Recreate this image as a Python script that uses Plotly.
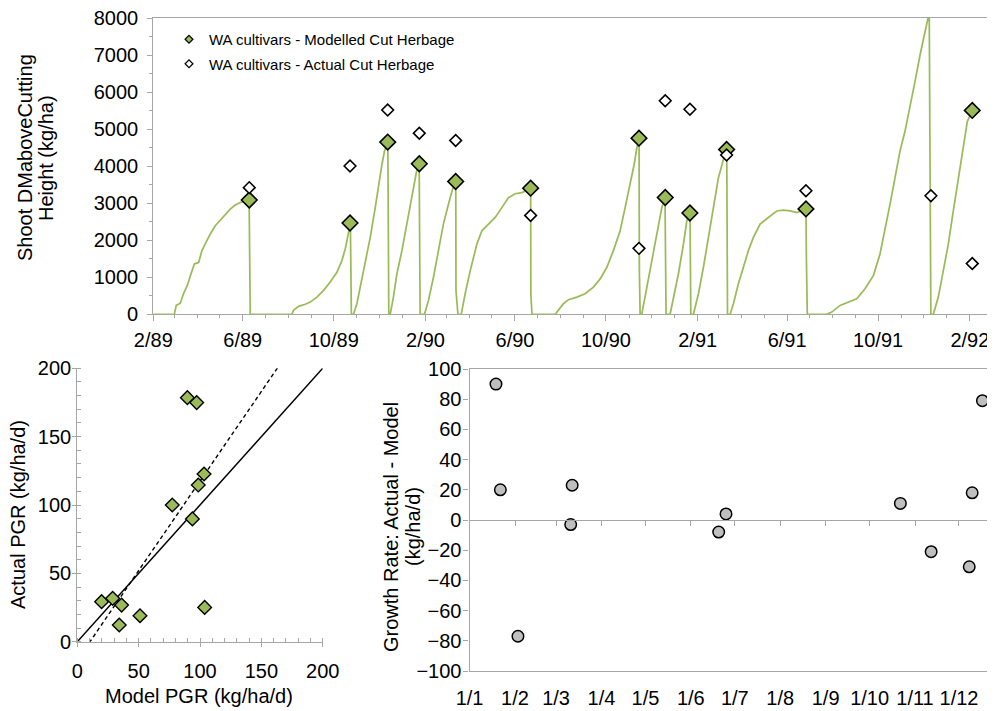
import pandas as pd
import plotly.graph_objects as go

# ---------------- data ----------------
BASE = pd.Timestamp("1989-02-01")   # day 0 of the top chart

# modelled shoot DM above cutting height (days after 1 Feb 1989, kg/ha)
line_day = [0, 28.2, 30.8, 36.2, 40.6, 46, 50.5, 55, 60.8, 65.2, 69.7, 76.4, 83.1, 89.8, 96.5, 103.2, 109.9, 116.6, 123.3, 128.5, 130,
            185.9, 188, 194.8, 203.8, 210.5, 219.4, 228.3, 237.3, 246.2, 252.9, 257.4, 260.5, 262.7, 264.3, 265.6,
            268.5, 273, 277.5, 284.2, 290.9, 297.6, 302, 306.6, 310, 312, 314.5, 315.8,
            317.7, 322, 326.7, 333.4, 340, 346.8, 351.2, 353.5, 356.5, 357.8,
            363.7, 369, 375.7, 382.4, 389, 395.8, 401.2, 405.6, 405.9, 408.5,
            412.9, 418.2, 425, 433.9, 440.6, 449.5, 458.4, 467.4, 476.3, 485.3, 494.2, 500.9, 506, 506.3, 507.8,
            538.9, 543.3, 550, 556.7, 568, 579, 590.2, 599.2, 608.2, 617, 626, 632.7, 639.4, 644.8, 648.4, 651.4, 651.8, 652.8,
            655, 659.5, 664, 670.6, 677.4, 681.9, 686.2, 687.6,
            693, 697.5, 704.2, 710.9, 715.4, 719.7, 720.8,
            724.3, 731, 737.7, 744.4, 751.1, 757.8, 764.5, 769, 770,
            773.5, 777.9, 784.6, 791.3, 798, 804.7, 813.7, 824.8, 836, 845, 854, 862.9, 869.6, 875.2, 875.8, 877,
            903, 909.8, 920.9, 932, 943.3, 954.4, 965.6, 974.5, 981.2, 987.9, 994.6, 1001.3, 1008, 1014.7, 1021.4, 1028.2, 1034.9, 1039.3, 1040.5, 1042.7,
            1046, 1052.7, 1059.4, 1066.1, 1072.8, 1079.5, 1086.2, 1091.6, 1098.3]
line_val = [0, 0, 240, 300, 560, 800, 1090, 1360, 1400, 1720, 1900, 2170, 2390, 2540, 2690, 2840, 2950, 3020, 3060, 3090, 0,
            0, 110, 215, 270, 330, 465, 645, 870, 1135, 1450, 1765, 2075, 2255, 2460, 0,
            0, 285, 735, 1360, 2075, 2880, 3510, 4045, 4405, 4535, 4640, 0,
            0, 465, 1095, 1720, 2435, 3150, 3685, 3910, 4060, 0,
            0, 375, 1000, 1720, 2435, 2970, 3375, 3575, 645, 0,
            0, 555, 1180, 1895, 2255, 2435, 2615, 2880, 3150, 3255, 3285, 3345, 3405, 555, 0,
            0, 105, 285, 395, 465, 555, 735, 955, 1270, 1720, 2255, 2880, 3510, 4045, 4490, 4750, 1200, 0,
            0, 465, 1000, 1630, 2345, 2880, 3155, 0,
            0, 465, 1095, 1895, 2525, 2730, 0,
            0, 555, 1270, 2075, 2880, 3685, 4180, 4445, 0,
            0, 285, 825, 1270, 1720, 2075, 2435, 2615, 2790, 2810, 2790, 2745, 2790, 2840, 1500, 0,
            0, 60, 240, 330, 420, 690, 1045, 1630, 2255, 2970, 3685, 4405, 4940, 5565, 6280, 7000, 7625, 8000, 8150, 0,
            0, 465, 1180, 1895, 2790, 3685, 4580, 5210, 5490]

model_cut_day = [128.7, 263.8, 314.3, 356.7, 405.5, 506, 651.3, 686.5, 719.6, 768.8, 875.2, 1098.2]
model_cut_val = [3085, 2465, 4650, 4065, 3585, 3405, 4755, 3155, 2735, 4450, 2845, 5505]
actual_cut_day = [128.7, 263.8, 314.3, 356.7, 405.5, 506, 651.3, 686.5, 719.6, 768.8, 875.2, 1042.8, 1098.2]
actual_cut_val = [3420, 4005, 5515, 4890, 4695, 2670, 1780, 5765, 5535, 4300, 3335, 3200, 1370]

top_tickvals = ["1989-02-01", "1989-06-01", "1989-10-01", "1990-02-01", "1990-06-01",
                "1990-10-01", "1991-02-01", "1991-06-01", "1991-10-01", "1992-02-01"]
top_ticktext = ["2/89", "6/89", "10/89", "2/90", "6/90", "10/90", "2/91", "6/91", "10/91", "2/92"]

# model vs actual pasture growth rate (kg/ha/d)
model_pgr = [89.7, 97.3, 103.3, 98.6, 77.4, 93.8, 19.8, 28.8, 36.1, 34.2, 51.1, 103.8]
actual_pgr = [178.5, 174.9, 122.7, 114.6, 100.0, 89.8, 29.3, 31.7, 26.8, 12.2, 19.0, 25.1]
fit_slope = 1.31
fit_intercept = -13.5

# growth-rate difference by day of year
diff_date = ["2001-01-19", "2001-01-22", "2001-02-03", "2001-03-12", "2001-03-11", "2001-06-20",
             "2001-06-25", "2001-10-22", "2001-11-12", "2001-12-08", "2001-12-10", "2001-12-17"]
diff_val = [90, 20, -77, 23, -3, -8, 4, 11, -21, -31, 18, 79]
month_tickvals = ["2001-01-01", "2001-02-01", "2001-03-01", "2001-04-01", "2001-05-01", "2001-06-01",
                  "2001-07-01", "2001-08-01", "2001-09-01", "2001-10-01", "2001-11-01", "2001-12-01"]
month_ticktext = ["1/1", "1/2", "1/3", "1/4", "1/5", "1/6", "1/7", "1/8", "1/9", "1/10", "1/11", "1/12"]

# ---------------- styling ----------------
OFF = 8                      # page body margin (px)
W, H = 995 - OFF, 711 - OFF
GREEN = "#9bbb59"
GRAY = "#a6a6a6"
FONT = "Liberation Sans, Arial, sans-serif"
FS = 20


def fx(px):
    return (px - OFF) / W


def fy(py):
    return 1 - (py - OFF) / H


def days_to_dates(d):
    return BASE + pd.to_timedelta(d, unit="D")


fig = go.Figure()

# top chart
fig.add_trace(go.Scatter(x=days_to_dates(line_day), y=line_val, mode="lines",
                         line=dict(color=GREEN, width=1.75), showlegend=False, hoverinfo="skip",
                         xaxis="x", yaxis="y"))
fig.add_trace(go.Scatter(x=days_to_dates(model_cut_day), y=model_cut_val, mode="markers",
                         marker=dict(symbol="diamond", size=12, color=GREEN, line=dict(color="black", width=1.6)),
                         showlegend=False, xaxis="x", yaxis="y"))
fig.add_trace(go.Scatter(x=days_to_dates(actual_cut_day), y=actual_cut_val, mode="markers",
                         marker=dict(symbol="diamond", size=9, color="white", line=dict(color="black", width=1.6)),
                         showlegend=False, xaxis="x", yaxis="y"))
# legend entries
fig.add_trace(go.Scatter(x=[None], y=[None], mode="markers", name="WA cultivars - Modelled Cut Herbage",
                         marker=dict(symbol="diamond", size=6, color=GREEN, line=dict(color="black", width=1.2)),
                         legendgroup="a", xaxis="x", yaxis="y"))
fig.add_trace(go.Scatter(x=[None], y=[None], mode="markers", name="WA cultivars - Actual Cut Herbage",
                         marker=dict(symbol="diamond", size=6, color="white", line=dict(color="black", width=1.2)),
                         legendgroup="b", xaxis="x", yaxis="y"))

# bottom-left scatter
fit_x = [0, 200]
fit_y = [fit_slope * v + fit_intercept for v in fit_x]
fig.add_trace(go.Scatter(x=[0, 200], y=[0, 200], mode="lines", line=dict(color="black", width=1.5),
                         showlegend=False, hoverinfo="skip", xaxis="x2", yaxis="y2"))
fig.add_trace(go.Scatter(x=fit_x, y=fit_y, mode="lines", line=dict(color="black", width=1.4, dash="4px,3px"),
                         showlegend=False, hoverinfo="skip", xaxis="x2", yaxis="y2"))
fig.add_trace(go.Scatter(x=model_pgr, y=actual_pgr, mode="markers",
                         marker=dict(symbol="diamond", size=10.5, color=GREEN, line=dict(color="black", width=1.4)),
                         showlegend=False, xaxis="x2", yaxis="y2"))

# bottom-right scatter
fig.add_trace(go.Scatter(x=diff_date, y=diff_val, mode="markers",
                         marker=dict(symbol="circle", size=11.5, color="#bfbfbf", line=dict(color="black", width=1.5)),
                         showlegend=False, xaxis="x3", yaxis="y3"))
fig.add_trace(go.Scatter(x=[None], y=[None], mode="markers", showlegend=False, xaxis="x4", yaxis="y3"))

# ---------------- axes ----------------
top_dom_x = [fx(153.3), fx(990)]
top_dom_y = [fy(314.3), fy(18)]
bl_dom_x = [fx(77.3), fx(322.7)]
bl_dom_y = [fy(641.7), fy(368.3)]
br_dom_x = [fx(469.6), 1.0]
br_dom_y = [fy(671), fy(369)]
zero_pos = br_dom_y[0] + 0.5 * (br_dom_y[1] - br_dom_y[0])

axis_common = dict(showgrid=False, zeroline=False, showline=True, linecolor=GRAY, linewidth=1.3,
                   automargin=False, ticklabeloverflow="allow", tickcolor=GRAY,
                   tickfont=dict(family=FONT, size=FS, color="black"))

fig.update_layout(
    xaxis=dict(domain=top_dom_x, anchor="y", type="date", range=["1989-02-01", "1992-02-28"],
               tickmode="array", tickvals=top_tickvals, ticktext=top_ticktext, ticks="outside", ticklen=6,
               mirror=True, layer="below traces", ticklabelstandoff=2,
               minor=dict(dtick="M1", tick0="1989-02-01", ticks="outside", ticklen=3, tickcolor=GRAY),
               **axis_common),
    yaxis=dict(domain=top_dom_y, anchor="x", range=[0, 8000], dtick=1000, tick0=0, ticks="outside", ticklen=5,
               mirror=True, ticklabelstandoff=5,
               minor=dict(dtick=500, ticks="outside", ticklen=3, tickcolor=GRAY),
               **axis_common),
    xaxis2=dict(domain=bl_dom_x, anchor="y2", range=[0, 200], dtick=50, tick0=0, ticks="outside", ticklen=4,
                ticklabelstandoff=7,
                minor=dict(dtick=10, ticks="inside", ticklen=4, tickcolor=GRAY), **axis_common),
    yaxis2=dict(domain=bl_dom_y, anchor="x2", range=[0, 200], dtick=50, tick0=0, ticks="outside", ticklen=4,
                ticklabelstandoff=-3,
                minor=dict(dtick=10, ticks="inside", ticklen=4, tickcolor=GRAY), **axis_common),
    xaxis3=dict(domain=br_dom_x, anchor="y3", type="date", range=["2001-01-01", "2001-12-25 14:00"],
                tickmode="array", tickvals=month_tickvals, ticktext=month_ticktext, ticks="",
                mirror=True, ticklabelstandoff=9, **axis_common),
    xaxis4=dict(domain=br_dom_x, overlaying="x3", anchor="free", position=zero_pos, type="date",
                range=["2001-01-01", "2001-12-25 14:00"], tickmode="array", tickvals=month_tickvals,
                ticks="outside", ticklen=5, showticklabels=False, **axis_common),
    yaxis3=dict(domain=br_dom_y, anchor="x3", range=[-100, 100], dtick=20, tick0=0, ticks="outside", ticklen=5,
                ticklabelstandoff=-2, **axis_common),
)

# axis titles
ann = [
    dict(text="Shoot DMaboveCutting", x=fx(25), y=fy(158)),
    dict(text="Height (kg/ha)", x=fx(46), y=fy(158)),
    dict(text="Actual PGR (kg/ha/d)", x=fx(18), y=fy(515)),
    dict(text="Growth Rate: Actual - Model", x=fx(391), y=fy(527)),
    dict(text="(kg/ha/d)", x=fx(413), y=fy(527)),
]
for a in ann:
    fig.add_annotation(text=a["text"], x=a["x"], y=a["y"], xref="paper", yref="paper", textangle=-90,
                       showarrow=False, xanchor="center", yanchor="middle",
                       font=dict(family=FONT, size=FS, color="black"))
fig.add_annotation(text="Model PGR (kg/ha/d)", x=fx(199), y=fy(696), xref="paper", yref="paper",
                   showarrow=False, xanchor="center", yanchor="middle",
                   font=dict(family=FONT, size=FS, color="black"))

fig.update_layout(
    width=W, height=H, margin=dict(l=0, r=0, t=0, b=0),
    paper_bgcolor="white", plot_bgcolor="white",
    font=dict(family=FONT, size=FS, color="black"),
    legend=dict(x=fx(169), y=fy(23), xanchor="left", yanchor="top", bgcolor="rgba(0,0,0,0)",
                font=dict(family=FONT, size=15, color="black"), tracegroupgap=2),
)

fig.write_html("out.html")
